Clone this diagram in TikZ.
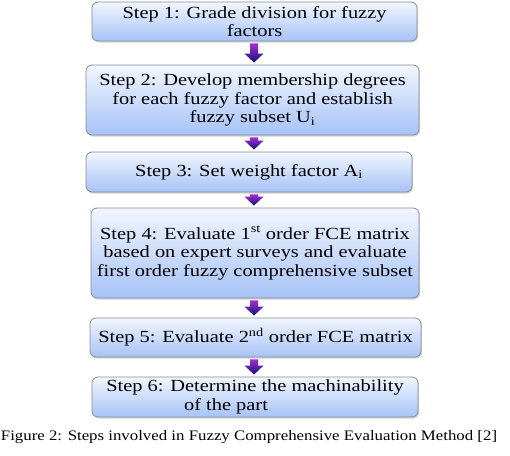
\documentclass[tikz,border=0pt]{standalone}
\usepackage{fontspec}
\setmainfont{Liberation Serif}[FakeStretch=1.16]
\newfontfamily\boxfont{Liberation Serif}[FakeStretch=1.2]
\usetikzlibrary{shadows,calc}
\definecolor{boxtop}{RGB}{242,246,255}
\definecolor{boxbot}{RGB}{166,194,246}
\definecolor{boxline}{RGB}{135,140,150}
\definecolor{arrtop}{RGB}{165,45,210}
\definecolor{arrmid}{RGB}{45,35,185}
\definecolor{arrbot}{RGB}{15,20,120}
\tikzset{
  stepbox/.style={draw=boxline, line width=0.8pt, rounded corners=6pt,
    top color=boxtop, bottom color=boxbot, align=center, inner sep=0pt,
    font=\boxfont\fontsize{17pt}{18.5pt}\selectfont, text=black,
    drop shadow={opacity=0.35, shadow xshift=1pt, shadow yshift=-1.5pt}},
  arrowshade/.style={top color=arrtop, middle color=arrmid, bottom color=arrbot, draw=none},
  captionstyle/.style={font=\fontsize{14.5pt}{16pt}\selectfont, inner sep=0pt}
}
\newcommand{\flowarrow}[2]{%
  \path[arrowshade] let \p1=(#1.south), \p2=(#2.north),
    \n1={\y1-2pt}, \n2={\y2+2pt}, \n3={\y2+11pt} in
    (250pt,\n1) -- (258pt,\n1) -- (258pt,\n3) -- (263.5pt,\n3) --
    (254pt,\n2) -- (244.5pt,\n3) -- (250pt,\n3) -- cycle;}
\begin{document}
\begin{tikzpicture}[x=1pt,y=-1pt]
\useasboundingbox (0,0) rectangle (510,455);
\node[stepbox, minimum width=325pt, minimum height=39pt] (b1) at (254.5,21.5)
  {Step 1: Grade division for fuzzy\\factors};
\node[stepbox, minimum width=333pt, minimum height=70pt] (b2) at (252.5,100)
  {Step 2: Develop membership degrees\\for each fuzzy factor and establish\\fuzzy subset U\textsubscript{i}};
\node[stepbox, minimum width=326pt, minimum height=40pt] (b3) at (249,172)
  {Step 3: Set weight factor A\textsubscript{i}};
\node[stepbox, minimum width=328pt, minimum height=90pt] (b4) at (255,253)
  {Step 4: Evaluate 1\textsuperscript{st} order FCE matrix\\based on expert surveys and evaluate\\first order fuzzy comprehensive subset};
\node[stepbox, minimum width=331pt, minimum height=39pt] (b5) at (255.5,337.5)
  {Step 5: Evaluate 2\textsuperscript{nd} order FCE matrix};
\node[stepbox, minimum width=326pt, minimum height=40pt] (b6) at (255,397)
  {Step 6: Determine the machinability\\of the part\hspace*{58pt}};
\flowarrow{b1}{b2}
\flowarrow{b2}{b3}
\flowarrow{b3}{b4}
\flowarrow{b4}{b5}
\flowarrow{b5}{b6}
\node[captionstyle] (cap) at (249,437)
  {Figure 2: Steps involved in Fuzzy Comprehensive Evaluation Method [2]};
\end{tikzpicture}
\end{document}
